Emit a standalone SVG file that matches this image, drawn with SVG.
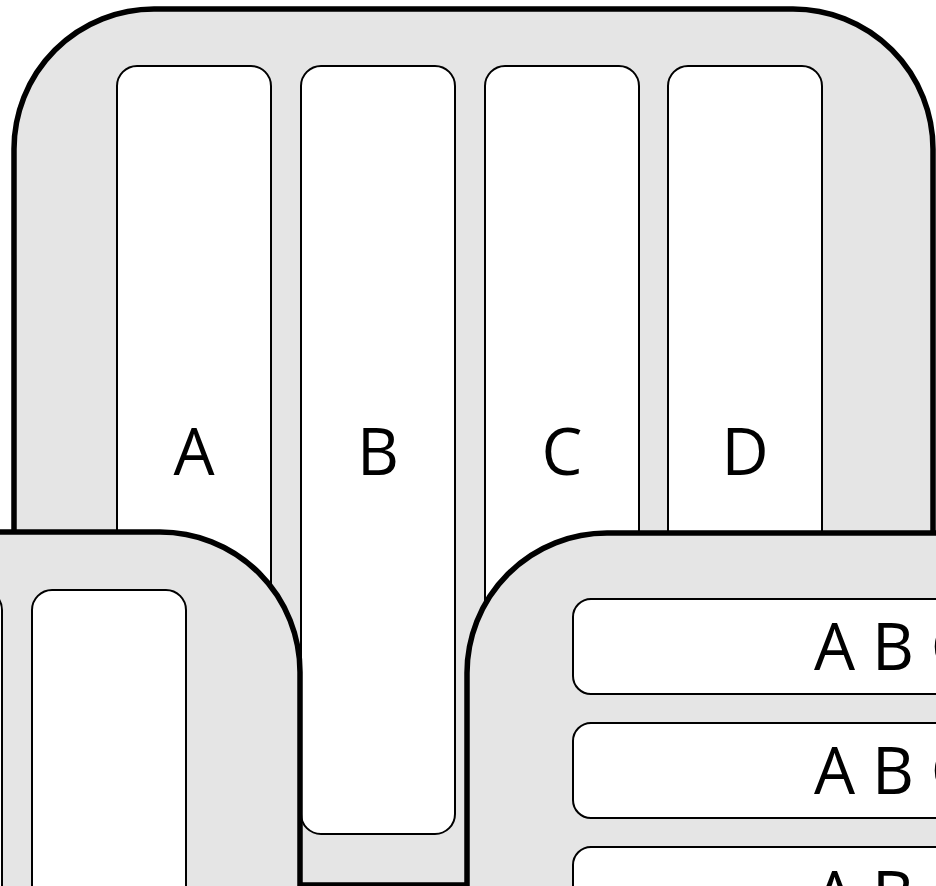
<svg xmlns="http://www.w3.org/2000/svg" width="936" height="886" viewBox="0 0 936 886">
<style>
.outer{fill:#e5e5e5;stroke:#000;stroke-width:5.5}
.inner{fill:#fff;stroke:#000;stroke-width:2}
.lbl{font-family:"Open Sans","Liberation Sans",sans-serif;font-size:65px;fill:#000}
</style>
<rect width="936" height="886" fill="#fff"/>
<g id="main">
<rect class="outer" x="14" y="9" width="919" height="876" rx="140" ry="140"/>
</g>
<g id="colA"><rect class="inner" x="117" y="66" width="154" height="768" rx="20"/><text class="lbl" x="194" y="475" text-anchor="middle">A</text></g>
<g id="colB"><rect class="inner" x="301" y="66" width="154" height="768" rx="20"/><text class="lbl" x="378" y="475" text-anchor="middle">B</text></g>
<g id="colC"><rect class="inner" x="485" y="66" width="154" height="768" rx="20"/><text class="lbl" x="562" y="475" text-anchor="middle">C</text></g>
<g id="colD"><rect class="inner" x="668" y="66" width="154" height="768" rx="20"/><text class="lbl" x="745" y="475" text-anchor="middle">D</text></g>
<g id="bottomLeft">
<rect class="outer" x="-500" y="532" width="800" height="800" rx="140" ry="140"/>
<rect class="inner" x="-152" y="590" width="154" height="768" rx="20"/>
<rect class="inner" x="32" y="590" width="154" height="768" rx="20"/>
</g>
<g id="bottomRight">
<rect class="outer" x="467" y="533" width="900" height="800" rx="140" ry="140"/>
<g id="row1"><rect class="inner" x="573" y="599" width="600" height="95" rx="18"/><text class="lbl" x="814" y="670">A B C</text></g>
<g id="row2"><rect class="inner" x="573" y="723" width="600" height="95" rx="18"/><text class="lbl" x="814" y="794">A B C</text></g>
<g id="row3"><rect class="inner" x="573" y="847" width="600" height="95" rx="18"/><text class="lbl" x="814" y="918">A B C</text></g>
</g>
<g id="connectors"/>
</svg>
